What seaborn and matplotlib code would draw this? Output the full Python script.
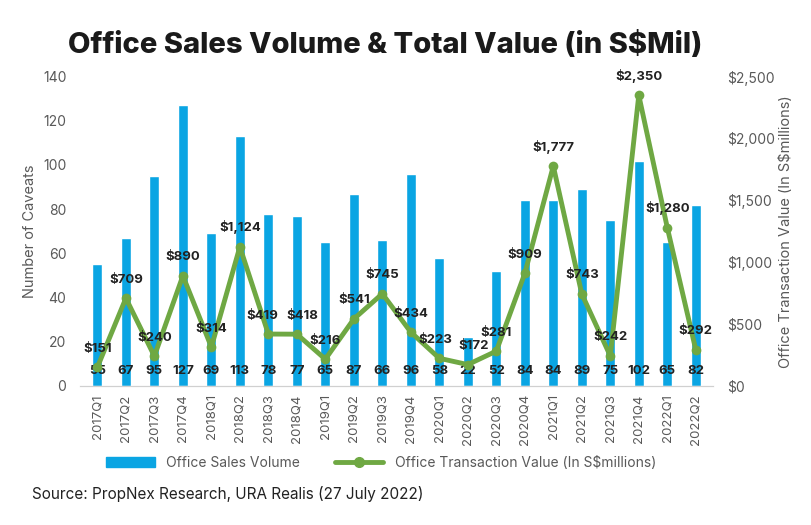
import numpy as np
import pandas as pd
import matplotlib
matplotlib.use('Agg')
import matplotlib.pyplot as plt
import seaborn as sns
from matplotlib.lines import Line2D
from matplotlib.patches import Patch

quarters = ['2017Q1', '2017Q2', '2017Q3', '2017Q4', '2018Q1', '2018Q2', '2018Q3', '2018Q4',
            '2019Q1', '2019Q2', '2019Q3', '2019Q4', '2020Q1', '2020Q2', '2020Q3', '2020Q4',
            '2021Q1', '2021Q2', '2021Q3', '2021Q4', '2022Q1', '2022Q2']
volume = [55, 67, 95, 127, 69, 113, 78, 77, 65, 87, 66, 96, 58, 22, 52, 84, 84, 89, 75, 102, 65, 82]
value = [151, 709, 240, 890, 314, 1124, 419, 418, 216, 541, 745, 434, 223, 172, 281, 909,
         1777, 743, 242, 2350, 1280, 292]

BLUE = '#0aa5e3'
GREEN = '#6fa843'
GREY = '#595959'

sns.set_style('white')
plt.rcParams['font.family'] = ['Inter', 'DejaVu Sans']

df = pd.DataFrame({'quarter': quarters, 'volume': volume, 'value': value})
df['pos'] = np.arange(len(df))

fig = plt.figure(figsize=(8.11, 5.25), dpi=100)
ax = fig.add_axes([0.099, 0.265, 0.780, 0.589])

sns.barplot(data=df, x='quarter', y='volume', color=BLUE, width=0.35, saturation=1, ax=ax)
ax.set_ylim(0, 140)
ax.set_yticks(range(0, 141, 20))
ax.set_xlim(-0.6, 21.6)
ax.set_xlabel('')
ax.set_ylabel('Number of Caveats', color=GREY, fontsize=10.5, labelpad=4)
ax.tick_params(axis='x', rotation=90, labelsize=9.5, colors=GREY, length=0, pad=6)
ax.tick_params(axis='y', labelsize=10, colors=GREY, length=0, pad=10)

for i, v in enumerate(volume):
    ax.text(i, 4, str(v), ha='center', va='bottom', fontsize=9.5, fontweight='bold', color='#222222')

ax2 = ax.twinx()
sns.lineplot(data=df, x='pos', y='value', color=GREEN, linewidth=3.5, marker='o',
             markersize=7, markeredgewidth=0, ax=ax2)
ax2.set_ylim(0, 2500)
ax2.set_yticks(range(0, 2501, 500))
ax2.set_yticklabels(['$0'] + [f'${t:,}' for t in range(500, 2501, 500)])
ax2.set_xlim(-0.6, 21.6)
ax2.set_ylabel('Office Transaction Value (In S$millions)', color=GREY, fontsize=10.5, labelpad=3)
ax2.tick_params(axis='y', labelsize=10, colors=GREY, length=0, pad=10)

# small sideways nudges so neighbouring labels don't collide
nudge = {6: -4, 7: 4, 12: -3, 13: 4}
for i, v in enumerate(value):
    ax2.annotate(f'${v:,}', (i, v), xytext=(nudge.get(i, 0), 9), textcoords='offset points',
                 ha='center', va='bottom', fontsize=9.5, fontweight='bold', color='#222222')

for a in (ax, ax2):
    for s in ['top', 'left', 'right']:
        a.spines[s].set_visible(False)
    a.spines['bottom'].set_color('#d0d0d0')

fig.text(0.475, 0.915, 'Office Sales Volume & Total Value (in S$Mil)', ha='center', va='center',
         fontsize=21, fontweight='heavy', color='#1a1a1a')

handles = [Patch(color=BLUE),
           Line2D([0], [0], color=GREEN, linewidth=3.5, marker='o', markersize=7)]
fig.legend(handles, ['Office Sales Volume', 'Office Transaction Value (In S$millions)'],
           loc='center', bbox_to_anchor=(0.47, 0.118), ncol=2, frameon=False,
           fontsize=10, labelcolor=GREY, handlelength=3.5, columnspacing=2.5)

fig.text(0.04, 0.06, 'Source: PropNex Research, URA Realis (27 July 2022)', ha='left', va='center',
         fontsize=11, color='#222222')

fig.savefig('out.png', dpi=100)
